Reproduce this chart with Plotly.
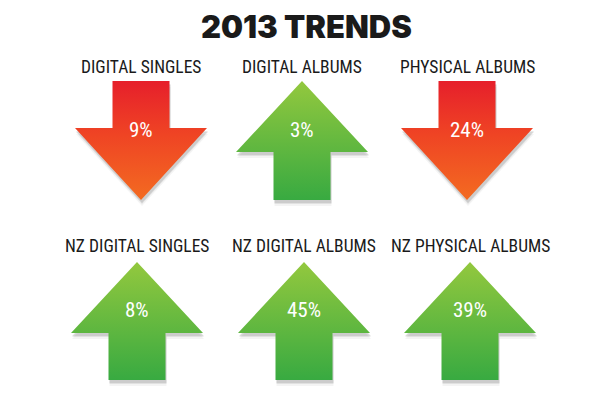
import plotly.graph_objects as go

# ---- data ----
categories = ["DIGITAL SINGLES", "DIGITAL ALBUMS", "PHYSICAL ALBUMS",
              "NZ DIGITAL SINGLES", "NZ DIGITAL ALBUMS", "NZ PHYSICAL ALBUMS"]
changes = [9, 3, 24, 8, 45, 39]
directions = ["down", "up", "down", "up", "up", "up"]
title_text = "2013 TRENDS"

# ---- layout geometry (pixels) ----
W, H = 600, 400
col_x = [[141, 302, 467], [137, 304, 470]]
row_top = [81, 262]
row_bottom = [200, 380]
label_y = [67, 246]
pct_y = [130, 310]
shaft_hw = 28.5
head_hw = 66
head_len_down = 72
head_len_up = 71

red_scale = [[0, "#e61f2b"], [0.45, "#ef4424"], [1, "#f36b21"]]
green_scale = [[0, "#93c83e"], [1, "#38aa41"]]
label_font = "Roboto Condensed, Open Sans Condensed, DejaVu Sans Condensed, sans-serif"


def arrow_poly(cx, top, bottom, direction):
    if direction == "down":
        hb = bottom - head_len_down
        xs = [cx - shaft_hw, cx + shaft_hw, cx + shaft_hw, cx + head_hw, cx,
              cx - head_hw, cx - shaft_hw, cx - shaft_hw]
        ys = [top, top, hb, hb, bottom, hb, hb, top]
    else:
        hb = top + head_len_up
        xs = [cx, cx + head_hw, cx + shaft_hw, cx + shaft_hw, cx - shaft_hw,
              cx - shaft_hw, cx - head_hw, cx]
        ys = [top, hb, hb, bottom, bottom, hb, hb, top]
    return xs, ys


fig = go.Figure()
annotations = []
for i, (cat, val, d) in enumerate(zip(categories, changes, directions)):
    r, c = divmod(i, 3)
    cx = col_x[r][c]
    top, bottom = row_top[r], row_bottom[r]
    xs, ys = arrow_poly(cx, top, bottom, d)
    # soft shadow
    for dx, dy, op in [(1, 6, 0.06), (1, 4, 0.10), (1, 3, 0.12)]:
        fig.add_trace(go.Scatter(
            x=[x + dx for x in xs], y=[y + dy for y in ys], mode="lines",
            fill="toself", fillcolor=f"rgba(60,60,60,{op})",
            line=dict(width=0), hoverinfo="skip", showlegend=False))
    fig.add_trace(go.Scatter(
        x=xs, y=ys, mode="lines", fill="toself",
        line=dict(width=0),
        fillgradient=dict(type="vertical",
                          colorscale=red_scale if d == "down" else green_scale,
                          start=top, stop=bottom),
        hoverinfo="skip", showlegend=False))
    annotations.append(dict(
        x=cx, y=label_y[r], text=cat, showarrow=False, xref="x", yref="y",
        font=dict(family=label_font, size=17.5, color="#1a1a1a")))
    annotations.append(dict(
        x=cx, y=pct_y[r], text=f"{val}%", showarrow=False, xref="x", yref="y",
        font=dict(family=label_font, size=21, color="#ffffff")))

annotations.append(dict(
    x=306, y=26, text=title_text, showarrow=False, xref="x", yref="y",
    font=dict(family="Inter, Roboto, sans-serif", size=31, weight=900, color="#1a1a1a")))

fig.update_layout(
    width=W, height=H, margin=dict(l=0, r=0, t=0, b=0),
    paper_bgcolor="white", plot_bgcolor="white",
    xaxis=dict(range=[0, W], visible=False, fixedrange=True),
    yaxis=dict(range=[H, 0], visible=False, fixedrange=True),
    annotations=annotations, showlegend=False)

fig.write_html("out.html", config={"displayModeBar": False},
               post_script="document.body.style.margin='0';")
